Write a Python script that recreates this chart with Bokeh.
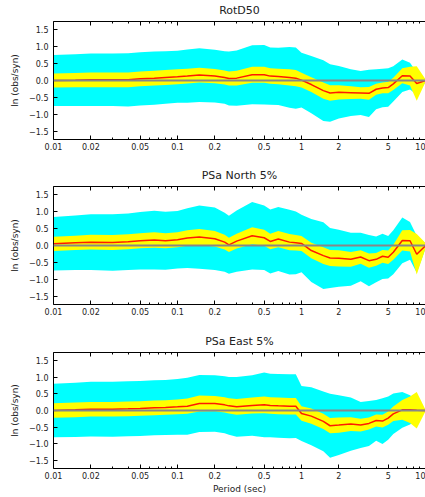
import numpy as np
from bokeh.plotting import figure
from bokeh.layouts import column
from bokeh.models import Range1d, FixedTicker, LogAxis, Span, CustomLabelingPolicy
from bokeh.embed import file_html
from bokeh.resources import INLINE

periods = [0.01, 0.015, 0.02, 0.03, 0.04, 0.05, 0.065, 0.08, 0.1, 0.12, 0.15, 0.2, 0.24, 0.26, 0.3,
           0.4, 0.5, 0.56, 0.65, 0.8, 0.9, 1.0, 1.2, 1.5, 1.7, 2.0, 2.5, 3.0, 3.5, 4.0, 4.5, 5.0,
           5.5, 6.5, 7.5, 8.5, 10.0]

titles = ["RotD50", "PSa North 5%", "PSa East 5%"]

rotd50_mean = [0.00, 0.01, 0.02, 0.02, 0.02, 0.05, 0.07, 0.09, 0.11, 0.13, 0.16, 0.13, 0.09, 0.06, 0.07,
               0.17, 0.17, 0.13, 0.12, 0.09, 0.07, 0.01, -0.12, -0.30, -0.37, -0.35, -0.36, -0.37, -0.38,
               -0.26, -0.22, -0.21, -0.10, 0.14, 0.13, -0.09, 0.00]
rotd50_sigma = [0.755, 0.77, 0.78, 0.78, 0.79, 0.79, 0.79, 0.78, 0.77, 0.79, 0.80, 0.78, 0.78, 0.80, 0.82,
                0.875, 0.88, 0.85, 0.85, 0.90, 0.91, 0.81, 0.85, 0.90, 0.85, 0.78, 0.69, 0.65, 0.70,
                0.59, 0.57, 0.57, 0.52, 0.48, 0.40, 0.33, 0.05]
rotd50_ci = [0.21, 0.21, 0.22, 0.22, 0.22, 0.22, 0.22, 0.22, 0.22, 0.22, 0.22, 0.21, 0.21, 0.21, 0.22,
             0.24, 0.24, 0.23, 0.23, 0.24, 0.24, 0.22, 0.22, 0.24, 0.23, 0.21, 0.19, 0.17, 0.19,
             0.16, 0.16, 0.17, 0.18, 0.22, 0.28, 0.51, 0.04]

north_mean = [0.05, 0.08, 0.10, 0.09, 0.11, 0.14, 0.16, 0.14, 0.17, 0.22, 0.25, 0.20, 0.10, 0.02, 0.13,
              0.29, 0.23, 0.12, 0.19, 0.10, 0.08, 0.06, -0.15, -0.30, -0.37, -0.38, -0.41, -0.34, -0.45,
              -0.41, -0.32, -0.35, -0.20, 0.15, 0.14, -0.26, -0.01]
north_sigma = [0.795, 0.81, 0.825, 0.84, 0.84, 0.855, 0.87, 0.86, 0.85, 0.885, 0.94, 0.925, 0.875, 0.86, 0.905,
               1.0, 0.96, 0.95, 0.95, 0.96, 0.93, 0.855, 0.935, 0.99, 0.89, 0.845, 0.785, 0.72, 0.76,
               0.68, 0.67, 0.63, 0.65, 0.68, 0.56, 0.55, 0.08]
north_ci = [0.21, 0.21, 0.22, 0.22, 0.22, 0.22, 0.23, 0.22, 0.22, 0.23, 0.24, 0.23, 0.22, 0.21, 0.22,
            0.25, 0.24, 0.23, 0.24, 0.24, 0.23, 0.22, 0.23, 0.25, 0.24, 0.24, 0.22, 0.20, 0.21,
            0.19, 0.19, 0.20, 0.22, 0.30, 0.32, 0.60, 0.08]

east_mean = [0.00, 0.02, 0.04, 0.04, 0.05, 0.06, 0.08, 0.09, 0.11, 0.13, 0.21, 0.21, 0.17, 0.14, 0.11,
             0.15, 0.17, 0.15, 0.14, 0.13, 0.13, -0.09, -0.17, -0.33, -0.46, -0.44, -0.41, -0.44, -0.39,
             -0.30, -0.32, -0.23, -0.10, 0.02, 0.02, 0.01, 0.00]
east_sigma = [0.81, 0.82, 0.825, 0.83, 0.83, 0.83, 0.83, 0.83, 0.84, 0.86, 0.86, 0.85, 0.86, 0.87, 0.90,
              0.915, 0.98, 0.96, 0.96, 0.965, 0.96, 0.83, 0.875, 0.90, 0.965, 0.90, 0.805, 0.695, 0.68,
              0.615, 0.69, 0.655, 0.61, 0.54, 0.44, 0.30, 0.03]
east_ci = [0.22, 0.22, 0.22, 0.22, 0.22, 0.22, 0.22, 0.22, 0.22, 0.23, 0.24, 0.23, 0.23, 0.23, 0.24,
           0.24, 0.25, 0.25, 0.25, 0.25, 0.25, 0.22, 0.23, 0.23, 0.23, 0.23, 0.21, 0.19, 0.18,
           0.18, 0.19, 0.20, 0.22, 0.30, 0.40, 0.55, 0.02]

xticks = [0.01, 0.02, 0.05, 0.1, 0.2, 0.5, 1, 2, 5, 10]
xtick_labels = ["0.01", "0.02", "0.05", "0.1", "0.2", "0.5", "1", "2", "5", "10"]
x_minor = [0.03, 0.04, 0.06, 0.07, 0.08, 0.09, 0.3, 0.4, 0.6, 0.7, 0.8, 0.9,
           3, 4, 6, 7, 8, 9]
yticks = [-1.5, -1.0, -0.5, 0.0, 0.5, 1.0, 1.5]
ytick_labels = ["\u22121.5", "\u22121.0", "\u22120.5", "0.0", "0.5", "1.0", "1.5"]

FONT = "DejaVu Sans"


def style_axis(ax):
    ax.major_tick_in = 4
    ax.major_tick_out = 0
    ax.minor_tick_in = 2
    ax.minor_tick_out = 0
    ax.axis_line_color = "black"
    ax.axis_line_width = 1
    ax.major_tick_line_color = "black"
    ax.minor_tick_line_color = "black"
    ax.major_label_text_font = FONT
    ax.major_label_text_font_size = "8px"
    ax.major_label_text_color = "#222222"
    ax.axis_label_text_font = FONT
    ax.axis_label_text_font_size = "9px"
    ax.axis_label_text_font_style = "normal"
    ax.axis_label_text_color = "#222222"


def make_panel(title, mean, sigma, ci, height, btop, bbot, xlabel=None):
    p = figure(width=425, height=height, x_axis_type="log",
               x_range=Range1d(0.01, 10), y_range=Range1d(-1.75, 1.75),
               output_backend="svg", toolbar_location=None,
               min_border_left=53, min_border_right=0,
               min_border_top=btop, min_border_bottom=bbot, title=title)
    p.title.text_font = FONT
    p.title.text_font_size = "11px"
    p.title.text_font_style = "normal"
    p.title.text_color = "#222222"
    p.title.align = "center"
    p.title.standoff = 2
    p.outline_line_color = None
    p.xgrid.visible = False
    p.ygrid.visible = False
    p.background_fill_color = "white"

    m = np.array(mean)
    s = np.array(sigma)
    c = np.array(ci)
    p.varea(x=periods, y1=m - s, y2=m + s, fill_color="#00ffff")
    p.varea(x=periods, y1=m - c, y2=m + c, fill_color="#ffff00")
    p.add_layout(Span(location=0, dimension="width", line_color="#888888", line_width=2))
    p.line(periods, mean, line_color="#ff1a00", line_width=1.5)

    p.xaxis.ticker = FixedTicker(ticks=xticks, minor_ticks=x_minor)
    p.xaxis.major_label_overrides = dict(zip(xticks, xtick_labels))
    p.xaxis.major_label_standoff = 3
    p.yaxis.ticker = FixedTicker(ticks=yticks)
    p.yaxis.major_label_overrides = dict(zip(yticks, ytick_labels))
    p.yaxis.major_label_standoff = 5
    p.yaxis.axis_label = "ln (obs/syn)"
    p.yaxis.axis_label_standoff = 6
    if xlabel:
        p.xaxis.axis_label = xlabel
        p.xaxis.axis_label_standoff = 2
    for ax in p.axis:
        style_axis(ax)
    p.yaxis.minor_tick_line_color = None

    hide_all = CustomLabelingPolicy(code="for (const i of indices) indices.unset(i); return indices")
    top = LogAxis(ticker=FixedTicker(ticks=xticks, minor_ticks=x_minor),
                  major_label_policy=hide_all, major_label_standoff=0)
    style_axis(top)
    top.major_label_text_font_size = "1px"
    p.add_layout(top, "above")
    return p


p1 = make_panel(titles[0], rotd50_mean, rotd50_sigma, rotd50_ci, 161, 21, 22)
p2 = make_panel(titles[1], north_mean, north_sigma, north_ci, 165, 25, 22)
p3 = make_panel(titles[2], east_mean, east_sigma, east_ci, 170, 26, 27, xlabel="Period (sec)")

layout = column(p1, p2, p3)
open("out.html", "w").write(file_html(layout, INLINE))
